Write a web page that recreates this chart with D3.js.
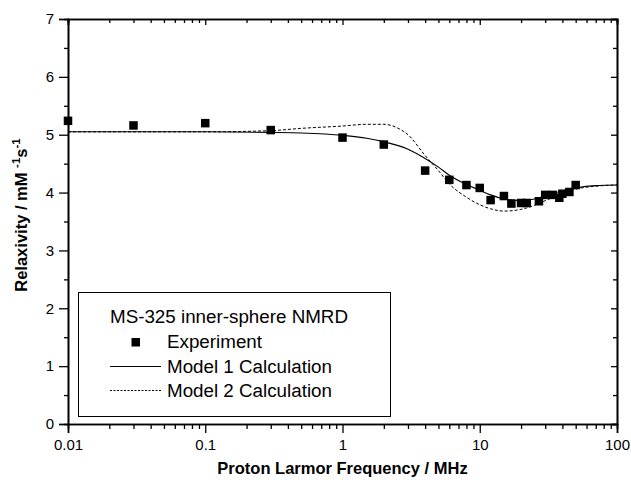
<!DOCTYPE html>
<html>
<head>
<meta charset="utf-8">
<script src="https://cdn.jsdelivr.net/npm/d3@7"></script>
<style>
  body { margin: 0; background: #fff; }
  text { font-family: "Liberation Sans", Arial, sans-serif; fill: #000; }
</style>
</head>
<body>
<div id="chart"></div>
<script>
// experimental NMRD points (MHz, relaxivity)
var expFreq = [0.01, 0.03, 0.1, 0.3, 1, 2, 4, 6, 8, 10, 12, 15, 17, 20, 22, 27, 30, 34, 38, 40, 45, 50];
var expR1 = [5.24, 5.16, 5.20, 5.08, 4.95, 4.83, 4.38, 4.22, 4.13, 4.08, 3.87, 3.94, 3.81, 3.82, 3.82, 3.85, 3.96, 3.96, 3.91, 3.98, 4.01, 4.13];

// model curves
var model1Freq = [0.01, 0.1, 0.3, 0.5, 1, 1.5, 2, 3, 4, 5, 6, 8, 10, 12, 15, 20, 25, 30, 40, 50, 70, 100];
var model1R1 = [5.05, 5.05, 5.04, 5.03, 4.99, 4.94, 4.88, 4.75, 4.59, 4.44, 4.30, 4.14, 4.04, 3.96, 3.89, 3.86, 3.89, 3.94, 4.03, 4.08, 4.12, 4.13];
var model2Freq = [0.01, 0.1, 0.3, 0.5, 1, 1.5, 2, 2.5, 3, 4, 5, 6, 8, 10, 12, 15, 20, 25, 30, 40, 50, 70, 100];
var model2R1 = [5.05, 5.05, 5.07, 5.11, 5.15, 5.18, 5.18, 5.12, 5.00, 4.64, 4.38, 4.15, 3.92, 3.79, 3.72, 3.68, 3.71, 3.78, 3.86, 3.99, 4.06, 4.11, 4.13];

var xTicks = [0.01, 0.1, 1, 10, 100];
var yTicks = [0, 1, 2, 3, 4, 5, 6, 7];

var svgWidth = 631, svgHeight = 486;
var margin = { top: 19, right: 14, bottom: 62, left: 68 };
var width = svgWidth - margin.left - margin.right;
var height = svgHeight - margin.top - margin.bottom;

var svg = d3.select("#chart").append("svg")
  .attr("width", svgWidth)
  .attr("height", svgHeight);

var g = svg.append("g")
  .attr("transform", `translate(${margin.left}, ${margin.top})`);

var x = d3.scaleLog().domain([0.01, 100]).range([0, width]);
var y = d3.scaleLinear().domain([0, 7]).range([height, 0]);

// minor tick values
var xMinor = [];
for (var e = -2; e < 2; e++) {
  for (var m = 2; m <= 9; m++) xMinor.push(m * Math.pow(10, e));
}
var yMinor = d3.range(0.5, 7, 1);

function styleAxis(sel) {
  sel.select(".domain").attr("stroke", "#000").attr("stroke-width", 1.6);
  sel.selectAll(".tick line").attr("stroke", "#000").attr("stroke-width", 1.3);
  sel.selectAll(".tick text").style("font-size", "15px");
}

// bottom axis
g.append("g").attr("transform", `translate(0, ${height})`)
  .call(d3.axisBottom(x).tickValues(xMinor).tickSize(5).tickFormat(""))
  .call(styleAxis);
g.append("g").attr("transform", `translate(0, ${height})`)
  .call(d3.axisBottom(x).tickValues(xTicks).tickSize(9).tickPadding(6)
    .tickFormat(function(d) { return d3.format("~g")(d); }))
  .call(styleAxis);

// top axis (inward ticks)
g.append("g")
  .call(d3.axisBottom(x).tickValues(xMinor).tickSize(4).tickFormat(""))
  .call(styleAxis);
g.append("g")
  .call(d3.axisBottom(x).tickValues(xTicks).tickSize(6).tickFormat(""))
  .call(styleAxis);

// left axis
g.append("g")
  .call(d3.axisLeft(y).tickValues(yMinor).tickSize(4).tickFormat(""))
  .call(styleAxis);
g.append("g")
  .call(d3.axisLeft(y).tickValues(yTicks).tickSize(9).tickPadding(5).tickFormat(d3.format("d")))
  .call(styleAxis);

// right axis (inward ticks)
g.append("g").attr("transform", `translate(${width}, 0)`)
  .call(d3.axisLeft(y).tickValues(yMinor).tickSize(4).tickFormat(""))
  .call(styleAxis);
g.append("g").attr("transform", `translate(${width}, 0)`)
  .call(d3.axisLeft(y).tickValues(yTicks).tickSize(6).tickFormat(""))
  .call(styleAxis);

// model curves
var line = d3.line()
  .x(d => x(d[0]))
  .y(d => y(d[1]))
  .curve(d3.curveMonotoneX);

g.append("path")
  .datum(d3.zip(model2Freq, model2R1))
  .attr("d", line)
  .attr("fill", "none")
  .attr("stroke", "#000")
  .attr("stroke-width", 1)
  .attr("stroke-dasharray", "3,2");

g.append("path")
  .datum(d3.zip(model1Freq, model1R1))
  .attr("d", line)
  .attr("fill", "none")
  .attr("stroke", "#000")
  .attr("stroke-width", 1.1);

// experiment squares
var sq = 8.5;
g.selectAll(".pt")
  .data(d3.zip(expFreq, expR1))
  .enter()
  .append("rect")
  .attr("class", "pt")
  .attr("x", d => x(d[0]) - sq / 2)
  .attr("y", d => y(d[1]) - sq / 2)
  .attr("width", sq)
  .attr("height", sq)
  .attr("fill", "#000");

// legend
var lg = svg.append("g");
var lgFont = "18.8px";
lg.append("rect")
  .attr("x", 78.5).attr("y", 292.5)
  .attr("width", 312).attr("height", 124)
  .attr("fill", "none")
  .attr("stroke", "#000")
  .attr("stroke-width", 1);

lg.append("text").attr("x", 110).attr("y", 323)
  .style("font-size", lgFont).text("MS-325 inner-sphere NMRD");
lg.append("rect").attr("x", 131.5).attr("y", 338).attr("width", 8.5).attr("height", 8.5).attr("fill", "#000");
lg.append("text").attr("x", 167).attr("y", 348)
  .style("font-size", lgFont).text("Experiment");
lg.append("line").attr("x1", 110).attr("x2", 161).attr("y1", 366.5).attr("y2", 366.5)
  .attr("stroke", "#000").attr("stroke-width", 1);
lg.append("text").attr("x", 167).attr("y", 372.5)
  .style("font-size", lgFont).text("Model 1 Calculation");
lg.append("line").attr("x1", 110).attr("x2", 161).attr("y1", 390.5).attr("y2", 390.5)
  .attr("stroke", "#000").attr("stroke-width", 1).attr("stroke-dasharray", "2,1.5");
lg.append("text").attr("x", 167).attr("y", 396.5)
  .style("font-size", lgFont).text("Model 2 Calculation");

// axis titles
svg.append("text")
  .attr("x", margin.left + width / 2).attr("y", 474)
  .attr("text-anchor", "middle")
  .style("font-size", "16.5px").style("font-weight", "bold")
  .text("Proton Larmor Frequency / MHz");

var yt = svg.append("text")
  .attr("transform", "translate(27, 215) rotate(-90)")
  .attr("text-anchor", "middle")
  .style("font-size", "16.5px").style("font-weight", "bold");
yt.append("tspan").text("Relaxivity / mM ");
yt.append("tspan").attr("dy", -7).style("font-size", "11.5px").text("-1");
yt.append("tspan").attr("dy", 7).text("s");
yt.append("tspan").attr("dy", -7).style("font-size", "11.5px").text("-1");
</script>
</body>
</html>
